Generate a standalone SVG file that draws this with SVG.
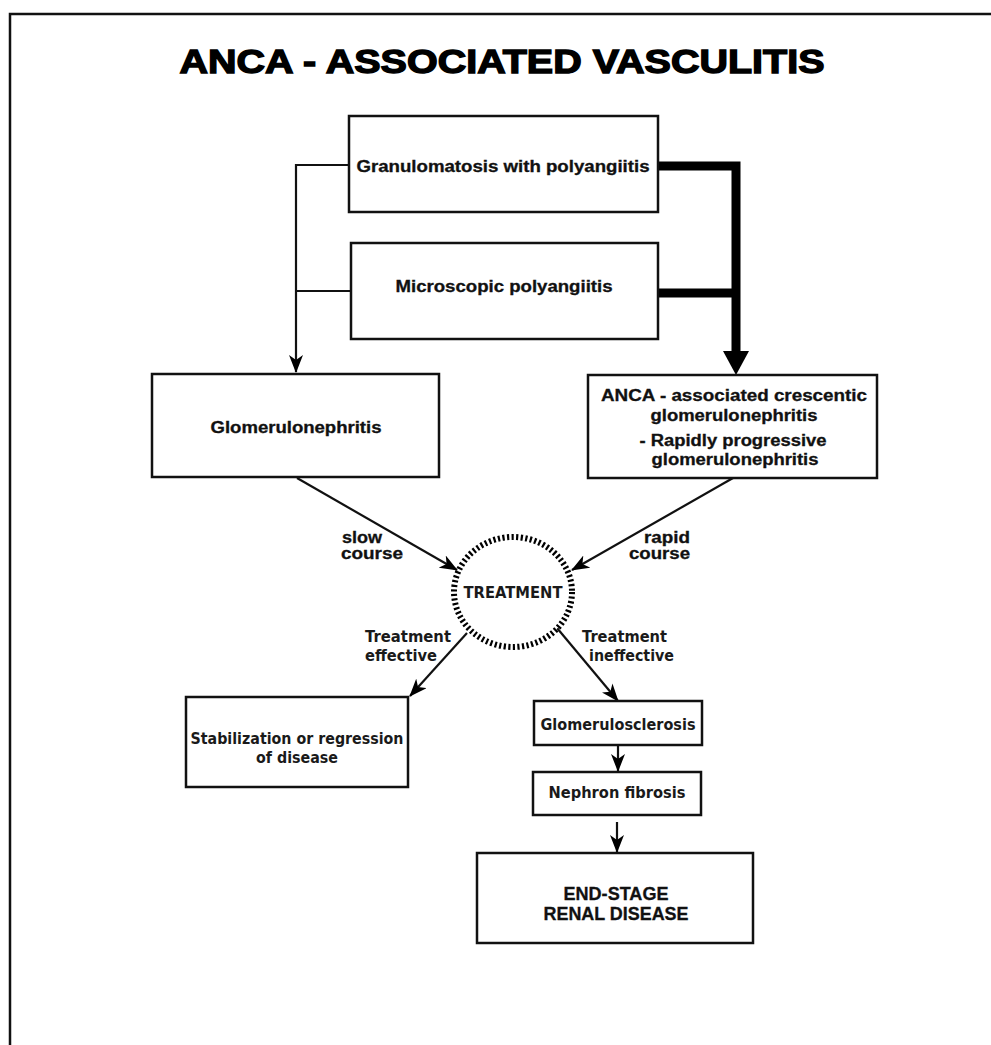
<svg xmlns="http://www.w3.org/2000/svg" width="991" height="1045" viewBox="0 0 991 1045">
  <style>
    .box { fill: #fff; stroke: #111; stroke-width: 2.5; }
    .line { fill: none; stroke: #111; stroke-width: 2.2; }
    .thick { fill: none; stroke: #000; stroke-width: 9; }
    .t { font-family: "Liberation Sans", Arial, sans-serif; font-weight: bold; font-size: 16px; fill: #111; stroke: #111; stroke-width: 0.3; text-anchor: middle; }
    .v { font-family: "DejaVu Sans", Verdana, sans-serif; font-weight: bold; font-size: 15px; fill: #1a1a1a; text-anchor: middle; }
    .title { font-family: "Liberation Sans", Arial, sans-serif; font-weight: bold; font-size: 34px; fill: #000; stroke: #000; stroke-width: 1.4; text-anchor: middle; }
  </style>
  <defs>
    <marker id="arrow" markerUnits="userSpaceOnUse" markerWidth="18" markerHeight="14" viewBox="0 0 18 14" refX="17" refY="7" orient="auto">
      <path d="M0,0 L18,7 L0,14 L5,7 Z" fill="#000"/>
    </marker>
  </defs>

  <rect width="991" height="1045" fill="#fff"/>

  <!-- page frame (top and left edges) -->
  <path d="M10,1045 L10,14 L991,14" fill="none" stroke="#111" stroke-width="2.5"/>

  <text class="title" x="502" y="73" textLength="645" lengthAdjust="spacingAndGlyphs">ANCA - ASSOCIATED VASCULITIS</text>

  <g id="connectors">
    <!-- left branch to glomerulonephritis -->
    <path class="line" d="M349,165 L296,165 L296,372" marker-end="url(#arrow)"/>
    <path class="line" d="M351,291 L296,291"/>
    <!-- thick branch to crescentic GN -->
    <path class="thick" d="M658,166 L736,166 L736,353"/>
    <path class="thick" d="M658,293 L736,293"/>
    <polygon points="723,351 749,351 736,375" fill="#000"/>
    <!-- into treatment -->
    <path class="line" d="M297,478 L457,570" marker-end="url(#arrow)"/>
    <path class="line" d="M733,478 L572,570" marker-end="url(#arrow)"/>
    <!-- out of treatment -->
    <path class="line" d="M467,633 L410,696" marker-end="url(#arrow)"/>
    <path class="line" d="M557,628 L618,701" marker-end="url(#arrow)"/>
    <!-- progression chain -->
    <path class="line" d="M618,746 L618,771" marker-end="url(#arrow)"/>
    <path class="line" d="M617,822 L617,852" marker-end="url(#arrow)"/>

    <text class="t" x="342" y="543" style="text-anchor:start" textLength="40" lengthAdjust="spacingAndGlyphs">slow</text>
    <text class="t" x="341" y="559" style="text-anchor:start" textLength="62" lengthAdjust="spacingAndGlyphs">course</text>
    <text class="t" x="690" y="543" style="text-anchor:end" textLength="46" lengthAdjust="spacingAndGlyphs">rapid</text>
    <text class="t" x="690" y="559" style="text-anchor:end" textLength="61" lengthAdjust="spacingAndGlyphs">course</text>

    <text class="v" x="365" y="642" style="text-anchor:start" textLength="86" lengthAdjust="spacingAndGlyphs">Treatment</text>
    <text class="v" x="365" y="661" style="text-anchor:start" textLength="72" lengthAdjust="spacingAndGlyphs">effective</text>
    <text class="v" x="582" y="642" style="text-anchor:start" textLength="85" lengthAdjust="spacingAndGlyphs">Treatment</text>
    <text class="v" x="589" y="661" style="text-anchor:start" textLength="85" lengthAdjust="spacingAndGlyphs">ineffective</text>
  </g>

  <g id="gpa">
    <rect class="box" x="349" y="116" width="309" height="96"/>
    <text class="t" x="503" y="172" textLength="293" lengthAdjust="spacingAndGlyphs">Granulomatosis with polyangiitis</text>
  </g>

  <g id="mpa">
    <rect class="box" x="351" y="243" width="307" height="96"/>
    <text class="t" x="504" y="292" textLength="217" lengthAdjust="spacingAndGlyphs">Microscopic polyangiitis</text>
  </g>

  <g id="glomerulonephritis">
    <rect class="box" x="152" y="374" width="287" height="103"/>
    <text class="t" x="296" y="433" textLength="171" lengthAdjust="spacingAndGlyphs">Glomerulonephritis</text>
  </g>

  <g id="crescentic-gn">
    <rect class="box" x="588" y="375" width="289" height="103"/>
    <text class="t" x="734" y="401" textLength="266" lengthAdjust="spacingAndGlyphs">ANCA - associated crescentic</text>
    <text class="t" x="734" y="421" textLength="167" lengthAdjust="spacingAndGlyphs">glomerulonephritis</text>
    <text class="t" x="733" y="446" textLength="187" lengthAdjust="spacingAndGlyphs">- Rapidly progressive</text>
    <text class="t" x="735" y="465" textLength="167" lengthAdjust="spacingAndGlyphs">glomerulonephritis</text>
  </g>

  <g id="treatment">
    <ellipse cx="513" cy="592" rx="59" ry="55" fill="#fff" stroke="#000" stroke-width="6" stroke-dasharray="2.2 2.4"/>
    <text class="v" x="513" y="598" textLength="99" lengthAdjust="spacingAndGlyphs">TREATMENT</text>
  </g>

  <g id="stabilization">
    <rect class="box" x="186" y="697" width="222" height="90"/>
    <text class="v" x="297" y="744" textLength="213" lengthAdjust="spacingAndGlyphs">Stabilization or regression</text>
    <text class="v" x="297" y="763" textLength="82" lengthAdjust="spacingAndGlyphs">of disease</text>
  </g>

  <g id="glomerulosclerosis">
    <rect class="box" x="534" y="701" width="168" height="44"/>
    <text class="v" x="618" y="730" textLength="155" lengthAdjust="spacingAndGlyphs">Glomerulosclerosis</text>
  </g>

  <g id="nephron-fibrosis">
    <rect class="box" x="533" y="772" width="168" height="43"/>
    <text class="v" x="617" y="798" textLength="137" lengthAdjust="spacingAndGlyphs">Nephron fibrosis</text>
  </g>

  <g id="esrd">
    <rect class="box" x="477" y="853" width="276" height="90"/>
    <text class="t" x="616" y="900" style="font-size:18px" textLength="105" lengthAdjust="spacingAndGlyphs">END-STAGE</text>
    <text class="t" x="616" y="920" style="font-size:18px" textLength="145" lengthAdjust="spacingAndGlyphs">RENAL DISEASE</text>
  </g>
</svg>
